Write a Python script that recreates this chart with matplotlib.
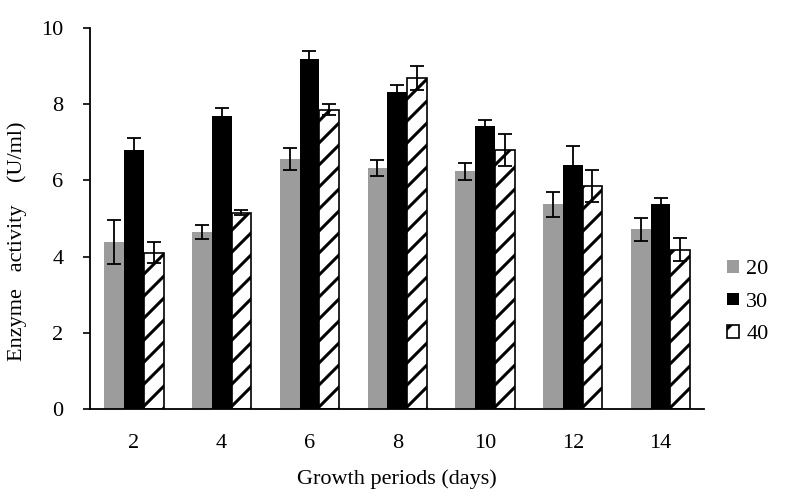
import numpy as np
import matplotlib
matplotlib.use("Agg")
import matplotlib.pyplot as plt

# hatch spacing follows dpi, so draw at a lower dpi and scale point sizes
DPI = 66
K = 100 / DPI

plt.rcParams["font.family"] = ["Liberation Serif", "DejaVu Serif"]
plt.rcParams["hatch.linewidth"] = 2.2 * K

days = ["2", "4", "6", "8", "10", "12", "14"]
series = ["20", "30", "40"]
vals_20 = [4.38, 4.64, 6.56, 6.33, 6.24, 5.37, 4.71]
err_20 = [0.58, 0.18, 0.30, 0.21, 0.22, 0.32, 0.31]
vals_30 = [6.80, 7.70, 9.18, 8.32, 7.42, 6.41, 5.39]
err_30 = [0.30, 0.21, 0.22, 0.18, 0.16, 0.50, 0.14]
vals_40 = [4.10, 5.15, 7.85, 8.68, 6.80, 5.86, 4.18]
err_40 = [0.27, 0.07, 0.14, 0.32, 0.42, 0.42, 0.30]

fig = plt.figure(figsize=(800 / DPI, 497 / DPI), dpi=DPI)
ax = fig.add_axes([0.1125, 0.177, 0.768, 0.767])

x = np.arange(len(days))
w = 0.225
ekw = dict(ecolor="black", elinewidth=1.3 * K, capsize=5 * K, capthick=1.3 * K)
ax.bar(x - w, vals_20, w, yerr=err_20, color="#9c9c9c", label=series[0], error_kw=ekw)
ax.bar(x, vals_30, w, yerr=err_30, color="black", label=series[1], error_kw=ekw)
ax.bar(x + w, vals_40, w, yerr=err_40, color="white", edgecolor="black",
       linewidth=1.2 * K, hatch="/", label=series[2], error_kw=ekw)

ax.set_xlim(-0.5, len(days) - 0.5)
ax.set_ylim(0, 10)
ax.set_yticks([0, 2, 4, 6, 8, 10])
ax.set_xticks(x)
ax.set_xticklabels(days)
ax.tick_params(axis="x", length=0, labelsize=16 * K, pad=18 * K)
ax.tick_params(axis="y", length=5 * K, width=1.2 * K, labelsize=16 * K,
               direction="out", pad=14 * K)
for s in ["top", "right"]:
    ax.spines[s].set_visible(False)
ax.spines["left"].set_linewidth(1.3 * K)
ax.spines["bottom"].set_linewidth(1.3 * K)

ax.set_xlabel("Growth periods (days)", fontsize=16 * K, labelpad=12 * K)
ax.set_ylabel("Enzyme   activity    (U/ml)", fontsize=16 * K)
ax.yaxis.set_label_coords(-0.102, 0.44)

ax.legend(loc="center left", bbox_to_anchor=(1.005, 0.28), frameon=False,
          fontsize=16 * K, handlelength=0.5, handleheight=0.5, handletextpad=0.35,
          labelspacing=0.6)

fig.savefig("out.png", dpi=DPI)
